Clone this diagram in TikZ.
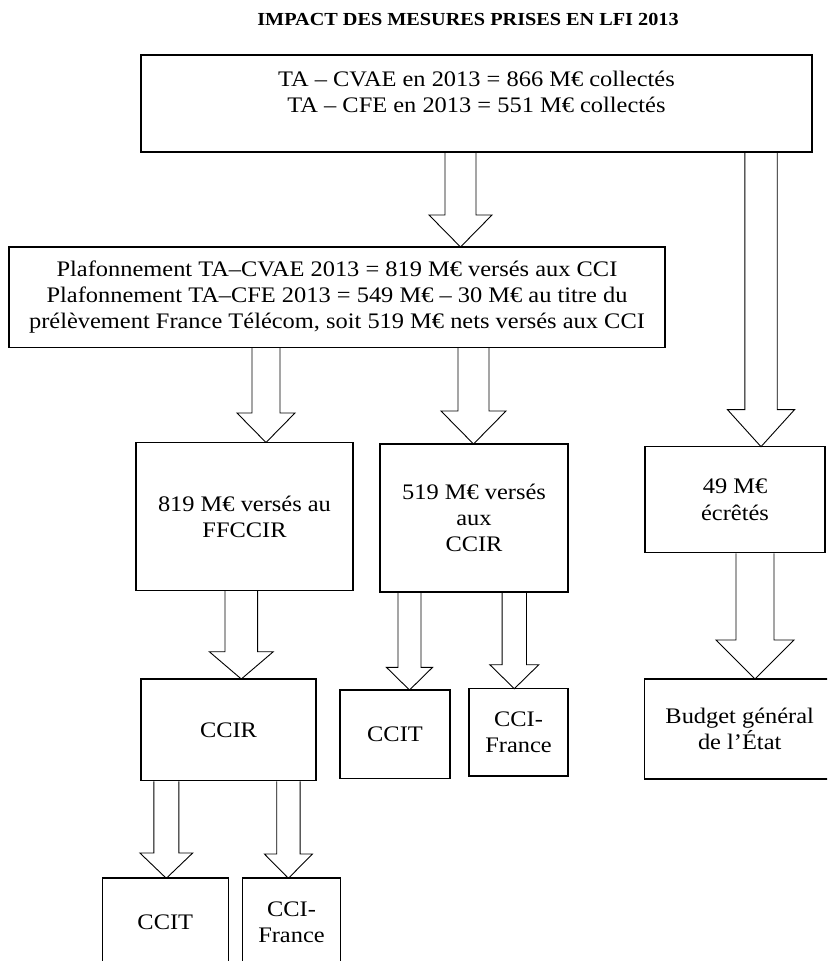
\documentclass[tikz,border=0pt]{standalone}
\usepackage{fontspec}
\setmainfont{Liberation Serif}[FakeStretch=1.1]
\usetikzlibrary{positioning,calc}
\tikzset{
  box/.style={rectangle, draw=black, line width=0.6pt, fill=white, align=center,
              inner sep=0pt, font=\fontsize{11.1}{13.1}\selectfont},
  ttl/.style={font=\fontsize{9.2}{11}\selectfont\bfseries},
  % hollow block arrow : shaft half width, head half width, head length
  blockarr/.style n args={3}{draw=black, line width=0.45pt, line join=miter,
    to path={let \p1=(\tikztostart), \p2=(\tikztotarget) in
      (\x1-#1,\y1) -- (\x1-#1,\y2+#3) -- (\x2-#2,\y2+#3) -- (\x2,\y2)
      -- (\x2+#2,\y2+#3) -- (\x1+#1,\y2+#3) -- (\x1+#1,\y1)}},
}
\begin{document}
\begin{tikzpicture}[x=0.5pt, y=-0.5pt]
  \useasboundingbox (0,0) rectangle (827,961);
  \clip (0,0) rectangle (827,961);

  \node[ttl] (title) at (468,19) {IMPACT DES MESURES PRISES EN LFI 2013};

  % --- collected amounts and cap ------------------------------------------
  \node[box, minimum width=335.5pt, minimum height=48.5pt] (collect) at (476.5,103.5)
    {TA – CVAE en 2013 = 866 M€ collectés\\TA – CFE en 2013 = 551 M€ collectés\\[-5pt]\strut};
  \node[box, minimum width=328pt, minimum height=50.25pt] (plafond) at (337,297.25)
    {Plafonnement TA–CVAE 2013 = 819 M€ versés aux CCI\\
     Plafonnement TA–CFE 2013 = 549 M€ – 30 M€ au titre du\\
     prélèvement France Télécom, soit 519 M€ nets versés aux CCI};

  % --- second level ---------------------------------------------------------
  \node[box, minimum width=108.5pt, minimum height=74pt] (ffccir) at (244.5,516.6)
    {819 M€ versés au\\FFCCIR};
  \node[box, minimum width=94pt, minimum height=74pt] (verseccir) at (474,518)
    {519 M€ versés\\aux\\CCIR};
  \node[box, minimum width=90pt, minimum height=53pt] (ecrete) at (735,499.7)
    {49 M€\\écrêtés};

  % --- third level ----------------------------------------------------------
  \node[box, minimum width=87.5pt, minimum height=50.85pt] (ccir) at (228.5,729.85) {CCIR};
  \node[box, minimum width=55pt, minimum height=44.15pt] (ccitmid) at (395,734.15) {CCIT};
  \node[box, minimum width=49.5pt, minimum height=43.65pt] (ccifmid) at (518.5,732.35) {CCI-\\France};
  \node[box, minimum width=95.35pt, minimum height=50pt] (budget) at (739.7,729)
    {Budget général\\de l’État};

  % --- fourth level ---------------------------------------------------------
  \node[box, minimum width=63pt, minimum height=44pt] (ccitlow) at (165.3,922) {CCIT};
  \node[box, minimum width=49.2pt, minimum height=44pt] (cciflow) at (291.5,922) {CCI-\\France};

  % --- arrow tips -----------------------------------------------------------
  \coordinate (tplafond) at (460.5,247);
  \coordinate (tecrete) at (761,446.7);
  \coordinate (tffccir) at (266,442.5);
  \coordinate (tverse) at (473.5,444);
  \coordinate (tccir) at (241.3,679);
  \coordinate (tccitmid) at (409.5,690);
  \coordinate (tccifmid) at (514.3,688.7);
  \coordinate (tbudget) at (755,679);
  \coordinate (tccitlow) at (166.3,878.3);
  \coordinate (tcciflow) at (288.4,878.3);

  % --- block arrows ---------------------------------------------------------
  \draw[blockarr={7.75pt}{15.75pt}{16pt}] (collect.south -| tplafond) to (tplafond);
  \draw[blockarr={8.1pt}{16.75pt}{18.5pt}] (collect.south -| tecrete) to (tecrete);
  \draw[blockarr={7pt}{14.5pt}{14.75pt}] (plafond.south -| tffccir) to (tffccir);
  \draw[blockarr={7.75pt}{16.25pt}{16.5pt}] (plafond.south -| tverse) to (tverse);
  \draw[blockarr={8.15pt}{16pt}{13.65pt}] (ffccir.south -| tccir) to (tccir);
  \draw[blockarr={5.75pt}{11.5pt}{11.3pt}] (verseccir.south -| tccitmid) to (tccitmid);
  \draw[blockarr={6.1pt}{12.25pt}{12pt}] (verseccir.south -| tccifmid) to (tccifmid);
  \draw[blockarr={9.5pt}{19.5pt}{19.5pt}] (ecrete.south -| tbudget) to (tbudget);
  \draw[blockarr={6.25pt}{13.2pt}{12.65pt}] (ccir.south -| tccitlow) to (tccitlow);
  \draw[blockarr={5.85pt}{12pt}{12.15pt}] (ccir.south -| tcciflow) to (tcciflow);
\end{tikzpicture}
\end{document}
